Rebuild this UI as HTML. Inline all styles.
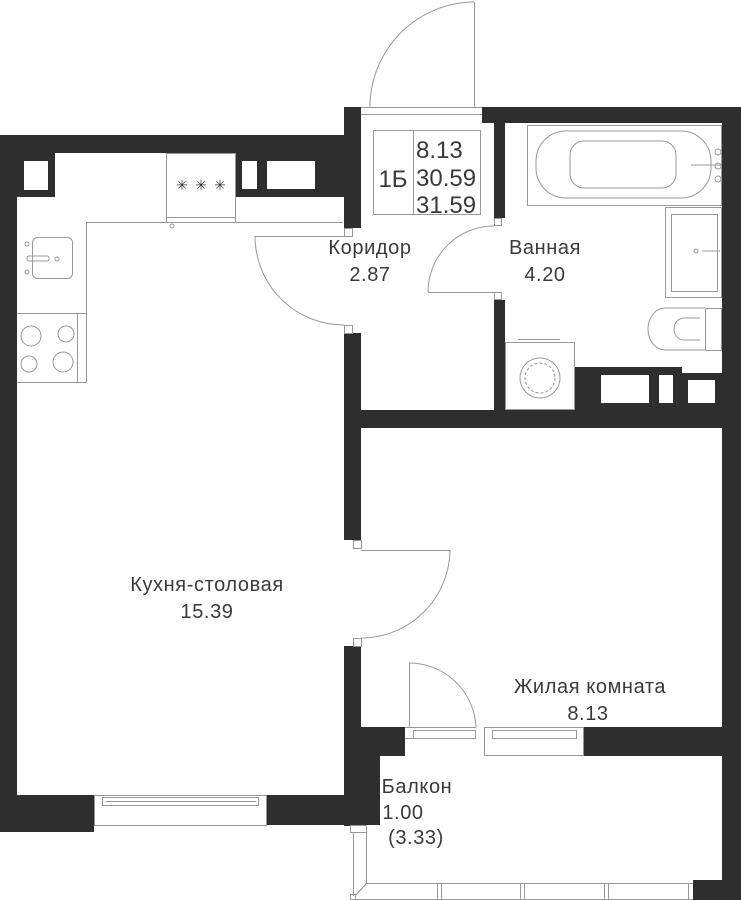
<!DOCTYPE html>
<html><head><meta charset="utf-8"><style>
html,body{margin:0;padding:0;background:#fff;}
svg{display:block}
text{font-family:"Liberation Sans",sans-serif;fill:#3a3a3a;}
</style></head><body>
<svg width="741" height="900" viewBox="0 0 741 900" xmlns="http://www.w3.org/2000/svg">
<g fill="#2e2e2e">
<rect x="0" y="135" width="361" height="18"/>
<rect x="0" y="135" width="55" height="62"/>
<rect x="236" y="135" width="125" height="62"/>
<rect x="344" y="107" width="17" height="121"/>
<rect x="0" y="135" width="17" height="697"/>
<rect x="0" y="795" width="94" height="37"/>
<rect x="266" y="795" width="114" height="30"/>
<rect x="344" y="333" width="17" height="207"/>
<rect x="344" y="646" width="17" height="180"/>
<rect x="344" y="727" width="61" height="29"/>
<rect x="344" y="727" width="36" height="98"/>
<rect x="482" y="107" width="259" height="16"/>
<rect x="494" y="107" width="11" height="111"/>
<rect x="494" y="300" width="11" height="128"/>
<rect x="722" y="107" width="19" height="793"/>
<rect x="575" y="367" width="107" height="61"/>
<rect x="682" y="373" width="45" height="55"/>
<rect x="361" y="410" width="370" height="18"/>
<rect x="584" y="727" width="150" height="29"/>
<rect x="693" y="880" width="40" height="20"/>
</g>
<g fill="#fff">
<rect x="24" y="161" width="24" height="29"/>
<rect x="242" y="161" width="15" height="28"/>
<rect x="267" y="161" width="48" height="28"/>
<rect x="601" y="375" width="48" height="28"/>
<rect x="659" y="375" width="14" height="28"/>
<rect x="688" y="380" width="27" height="23"/>
</g>
<g fill="none" stroke="#999" stroke-width="1">
<line x1="361" y1="107.5" x2="482" y2="107.5"/><line x1="361" y1="114.5" x2="482" y2="114.5"/>
<line x1="474.5" y1="2" x2="474.5" y2="107"/>
<path d="M474 2 A105 105 0 0 0 370 107"/>
<rect x="373.5" y="130.5" width="107" height="84"/><line x1="413.5" y1="130" x2="413.5" y2="214"/>
<rect x="166.5" y="153.5" width="69" height="69"/><line x1="166" y1="217.5" x2="235" y2="217.5"/>
<circle cx="172" cy="226" r="2"/>
<polyline points="343,222.5 86.5,222.5 86.5,382.5 17,382.5"/>
<line x1="17" y1="313.5" x2="86" y2="313.5"/><line x1="77.5" y1="313" x2="77.5" y2="382"/>
<circle cx="31" cy="336" r="10"/><circle cx="66" cy="334" r="8"/>
<circle cx="29" cy="364" r="8"/><circle cx="63" cy="362" r="10"/>
<rect x="32.5" y="237.5" width="40" height="41" rx="5"/>
<rect x="27" y="256" width="22" height="5" rx="2"/>
<circle cx="57" cy="259" r="2"/><circle cx="27" cy="244" r="2"/><circle cx="27" cy="272" r="2"/>
<line x1="255" y1="236.5" x2="344" y2="236.5"/>
<path d="M255 236 A89 89 0 0 0 344 325"/>
<rect x="344.5" y="228.5" width="8" height="8"/><rect x="344.5" y="325.5" width="8" height="8"/>
<line x1="428" y1="292.5" x2="494" y2="292.5"/>
<path d="M428 292 A66 66 0 0 1 494 226"/>
<rect x="494.5" y="218.5" width="7" height="7"/><rect x="494.5" y="292.5" width="7" height="7"/>
<rect x="527.5" y="125.5" width="194" height="80"/>
<rect x="536" y="131" width="175" height="67" rx="30"/>
<rect x="570" y="141" width="106" height="47" rx="14"/>
<line x1="691" y1="165" x2="720" y2="165"/>
<circle cx="718" cy="152" r="3"/><circle cx="718" cy="166" r="3"/><circle cx="718" cy="179" r="3"/>
<rect x="665.5" y="207.5" width="56" height="90"/><rect x="671.5" y="214.5" width="46" height="77"/>
<circle cx="696" cy="251" r="2"/><line x1="702" y1="251" x2="720" y2="251"/>
<rect x="705.5" y="308.5" width="16" height="42"/>
<path d="M705 308 H665 A17 21 0 0 0 665 350 H705"/>
<path d="M700 318 H684 A10 11 0 0 0 684 340 H700"/>
<rect x="505.5" y="342.5" width="69" height="67"/><line x1="518" y1="339.5" x2="560" y2="339.5"/>
<circle cx="540" cy="378" r="20"/><circle cx="540" cy="378" r="15" stroke-dasharray="3 2"/>
<line x1="361" y1="550.5" x2="450" y2="550.5"/>
<path d="M450 550 A89 89 0 0 1 361 638"/>
<rect x="353.5" y="540.5" width="8" height="8"/><rect x="353.5" y="638.5" width="8" height="8"/>
<line x1="409.5" y1="663" x2="409.5" y2="727"/>
<path d="M409 663 A67 67 0 0 1 476 727"/>
<line x1="405" y1="727.5" x2="476" y2="727.5"/><line x1="405" y1="738.5" x2="476" y2="738.5"/>
<rect x="413.5" y="730.5" width="62" height="8"/>
<rect x="484.5" y="727.5" width="99" height="28"/><rect x="492.5" y="730.5" width="84" height="8"/>
<rect x="94.5" y="795.5" width="172" height="30"/>
<rect x="102.5" y="797.5" width="156" height="8"/><line x1="106" y1="801.5" x2="256" y2="801.5"/>
<rect x="350.5" y="825.5" width="16" height="7"/>
<line x1="353.5" y1="832" x2="353.5" y2="896"/><line x1="366.5" y1="832" x2="366.5" y2="883"/>
<line x1="366" y1="883.5" x2="693" y2="883.5"/><line x1="355" y1="896" x2="367" y2="883"/>
<line x1="353" y1="899.5" x2="693" y2="899.5"/>
<rect x="350.5" y="894.5" width="5" height="5"/>
<line x1="437.5" y1="883" x2="437.5" y2="900"/><line x1="441.5" y1="883" x2="441.5" y2="900"/>
<line x1="520.5" y1="883" x2="520.5" y2="900"/><line x1="524.5" y1="883" x2="524.5" y2="900"/>
<line x1="604.5" y1="883" x2="604.5" y2="900"/><line x1="608.5" y1="883" x2="608.5" y2="900"/>
<line x1="688.5" y1="883" x2="688.5" y2="900"/>
</g>
<g font-size="14" fill="#777" text-anchor="middle"><text x="182" y="190">✳</text><text x="201" y="190">✳</text><text x="220" y="190">✳</text></g>
<g font-size="24">
<text x="393" y="187" text-anchor="middle">1Б</text>
<text x="416" y="158">8.13</text><text x="416" y="186">30.59</text><text x="416" y="213">31.59</text>
</g>
<g font-size="20" text-anchor="middle" letter-spacing="0.6">
<text x="370" y="254">Коридор</text><text x="370" y="281">2.87</text>
<text x="545" y="254">Ванная</text><text x="545" y="281">4.20</text>
<text x="207" y="591">Кухня-столовая</text><text x="207" y="618">15.39</text>
<text x="590" y="693">Жилая комната</text><text x="588" y="720">8.13</text>
<text x="417" y="793">Балкон</text><text x="403" y="819">1.00</text><text x="416" y="844">(3.33)</text>
</g>
</svg>
</body></html>
